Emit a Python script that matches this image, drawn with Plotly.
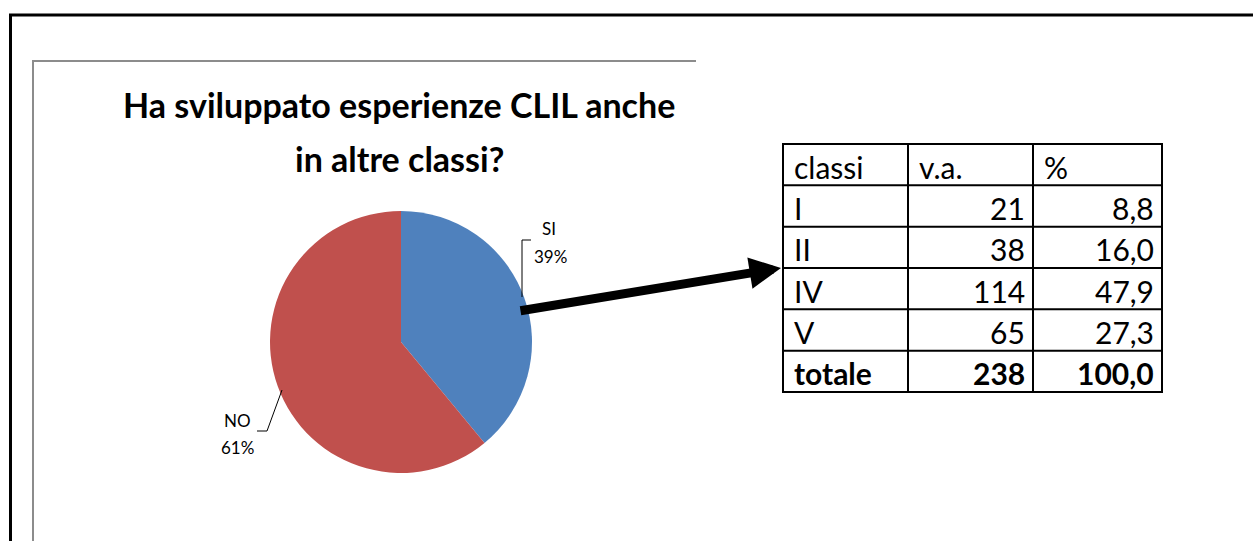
import plotly.graph_objects as go

# ---- data ----
pie_labels = ["SI", "NO"]
pie_values = [39, 61]
pie_colors = ["#4F81BD", "#C0504D"]

table_header = ["classi", "v.a.", "%"]
classi = ["I", "II", "IV", "V"]
va = [21, 38, 114, 65]
perc = ["8,8", "16,0", "47,9", "27,3"]
totale_label = "totale"
totale_va = 238
totale_perc = "100,0"

title_lines = ["Ha sviluppato esperienze CLIL anche", "in altre classi?"]

W, H = 1253, 541
FONT = "Lato"

fig = go.Figure()

# pie placement (pixels)
cx, cy, r = 401, 342, 131
fig.add_trace(go.Pie(
    labels=pie_labels, values=pie_values, sort=False, direction="clockwise",
    rotation=0, marker=dict(colors=pie_colors, line=dict(width=0)),
    textinfo="none", hoverinfo="label+percent", showlegend=False,
    domain=dict(x=[(cx - r) / W, (cx + r) / W], y=[(H - cy - r) / H, (H - cy + r) / H]),
))

shapes = []
annotations = []

# outer black border and inner gray chart border
shapes.append(dict(type="path", path=f"M 10.5 {H+5} L 10.5 15 L {W+5} 15",
                   line=dict(color="black", width=3)))
shapes.append(dict(type="path", path=f"M 33 {H+5} L 33 61 L 696 61",
                   line=dict(color="#8C8C8C", width=2)))

# title
for i, t in enumerate(title_lines):
    annotations.append(dict(x=399, y=104 + i * 54, text=f"<b>{t}</b>", showarrow=False,
                            xanchor="center", yanchor="middle",
                            font=dict(family=FONT, size=34, color="black")))

# pie labels with leader lines
lab_font = dict(family=FONT, size=17, color="black")
annotations.append(dict(x=549, y=228, text=pie_labels[0], showarrow=False, font=lab_font))
annotations.append(dict(x=550, y=256, text=f"{pie_values[0]}%", showarrow=False, font=lab_font))
annotations.append(dict(x=237, y=420, text=pie_labels[1], showarrow=False, font=lab_font))
annotations.append(dict(x=237, y=447, text=f"{pie_values[1]}%", showarrow=False, font=lab_font))
shapes.append(dict(type="path", path="M 522 297 L 522 240 L 531 240",
                   line=dict(color="black", width=1)))
shapes.append(dict(type="path", path="M 282 390 L 267 431 L 257 431",
                   line=dict(color="black", width=1)))

# arrow
annotations.append(dict(x=781, y=268, ax=519, ay=311, xref="x", yref="y",
                        axref="x", ayref="y", text="", showarrow=True,
                        arrowhead=2, arrowwidth=9, arrowsize=0.7,
                        arrowcolor="black", standoff=0))

# table
col_x = [783, 908, 1033, 1162]
rows = [table_header] + [[c, str(v), p] for c, v, p in zip(classi, va, perc)] + \
       [[totale_label, str(totale_va), totale_perc]]
n = len(rows)
top, bottom = 144, 392
rh = (bottom - top) / n
row_y = [top + i * rh for i in range(n + 1)]
for yy in row_y:
    shapes.append(dict(type="line", x0=col_x[0] - 1, x1=col_x[-1] + 1, y0=yy, y1=yy,
                       line=dict(color="black", width=2)))
for xx in col_x:
    shapes.append(dict(type="line", x0=xx, x1=xx, y0=top - 1, y1=bottom + 1,
                       line=dict(color="black", width=2)))
for i, row in enumerate(rows):
    ymid = (row_y[i] + row_y[i + 1]) / 2 + 2
    bold = i == n - 1
    for j, txt in enumerate(row):
        t = f"<b>{txt}</b>" if bold else txt
        if i == 0 or j == 0:
            xa, xpos = "left", col_x[j] + 9
        else:
            xa, xpos = "right", col_x[j + 1] - 6
        annotations.append(dict(x=xpos, y=ymid, text=t, showarrow=False,
                                xanchor=xa, yanchor="middle",
                                font=dict(family=FONT, size=30, color="black")))

fig.update_layout(
    width=W, height=H, margin=dict(l=0, r=0, t=0, b=0),
    paper_bgcolor="white", plot_bgcolor="white",
    xaxis=dict(range=[0, W], visible=False, fixedrange=True, domain=[0, 1]),
    yaxis=dict(range=[H, 0], visible=False, fixedrange=True, domain=[0, 1]),
    shapes=shapes, annotations=annotations,
)

fig.write_html("out.html", config={"displayModeBar": False},
               post_script="document.body.style.margin='0';document.body.style.overflow='hidden';")
